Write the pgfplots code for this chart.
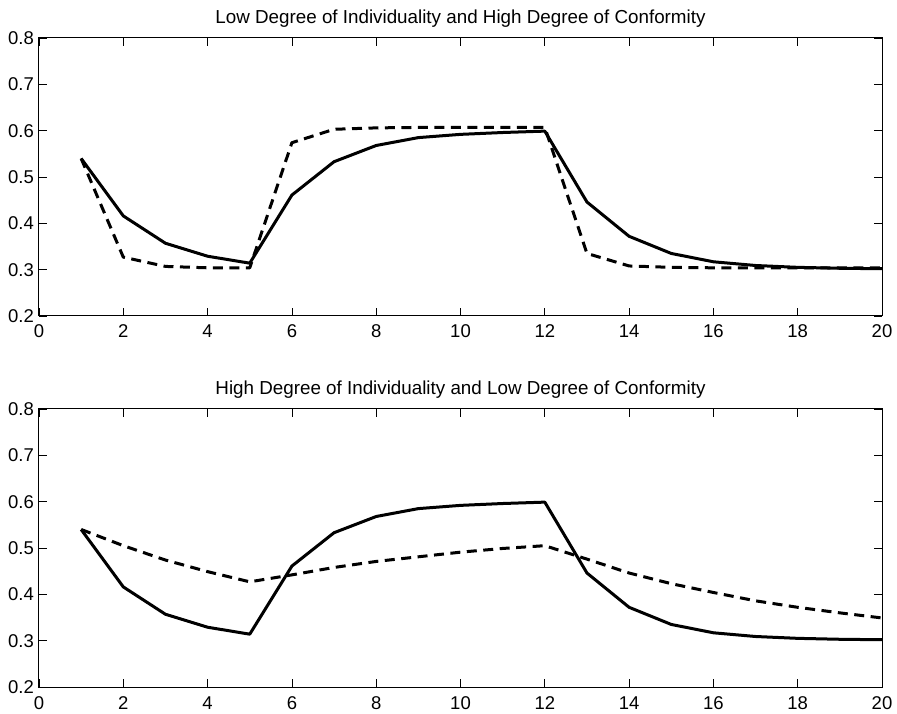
\documentclass[border=0pt]{standalone}
\usepackage{pgfplots}
\pgfplotsset{compat=1.18}
\usepackage{fontspec}
\setmainfont{Liberation Sans}
\pgfplotsset{
  mystyle/.style={
    scale only axis, width=843pt, height=278pt,
    xmin=0, xmax=20, ymin=0.2, ymax=0.8,
    xtick={0,2,...,20}, ytick={0.2,0.3,...,0.8},
    yticklabel style={/pgf/number format/fixed,/pgf/number format/precision=1,/pgf/number format/fixed zerofill,
      anchor=east, inner sep=0pt, xshift=-5pt},
    /pgf/number format/assume math mode=true,
    tick align=inside, major tick length=8pt,
    axis line style={line width=1pt}, tick style={line width=0.8pt, black},
    ticklabel style={font=\fontsize{18.5}{22}\selectfont},
    xticklabel style={anchor=base, inner sep=0pt, yshift=-22pt},
    every axis title/.style={font=\fontsize{18.8}{22}\selectfont, at={(0.5,1)}, anchor=base, yshift=14.5pt},
    clip=false,
  },
  sline/.style={line width=3pt, black, line join=round, mark=none},
  dline/.style={line width=3pt, black, line join=round, mark=none, dash pattern=on 10pt off 6.5pt},
}
\begin{document}
\begin{tikzpicture}
\path[use as bounding box] (-39pt,-398pt) rectangle (858pt,316pt);
\begin{axis}[mystyle, at={(0pt,0pt)}, anchor=south west,
  title={Low Degree of Individuality and High Degree of Conformity}]
\addplot[sline] coordinates {(1,0.540)(2,0.416)(3,0.357)(4,0.329)(5,0.314)(6,0.461)(7,0.533)(8,0.568)(9,0.585)(10,0.592)(11,0.596)(12,0.599)(13,0.446)(14,0.372)(15,0.335)(16,0.317)(17,0.309)(18,0.305)(19,0.303)(20,0.302)};
\addplot[dline] coordinates {(1,0.540)(2,0.327)(3,0.307)(4,0.304)(5,0.304)(6,0.574)(7,0.603)(8,0.606)(9,0.607)(10,0.607)(11,0.607)(12,0.607)(13,0.335)(14,0.308)(15,0.305)(16,0.304)(17,0.304)(18,0.304)(19,0.304)(20,0.304)};
\end{axis}
\begin{axis}[mystyle, at={(0pt,-371pt)}, anchor=south west,
  title={High Degree of Individuality and Low Degree of Conformity}]
\addplot[sline] coordinates {(1,0.540)(2,0.416)(3,0.357)(4,0.329)(5,0.314)(6,0.461)(7,0.533)(8,0.568)(9,0.585)(10,0.592)(11,0.596)(12,0.599)(13,0.446)(14,0.372)(15,0.335)(16,0.317)(17,0.309)(18,0.305)(19,0.303)(20,0.302)};
\addplot[dline] coordinates {(1,0.540)(2,0.505)(3,0.474)(4,0.449)(5,0.427)(6,0.442)(7,0.458)(8,0.471)(9,0.481)(10,0.491)(11,0.499)(12,0.505)(13,0.476)(14,0.446)(15,0.423)(16,0.404)(17,0.386)(18,0.372)(19,0.360)(20,0.349)};
\end{axis}
\end{tikzpicture}
\end{document}
